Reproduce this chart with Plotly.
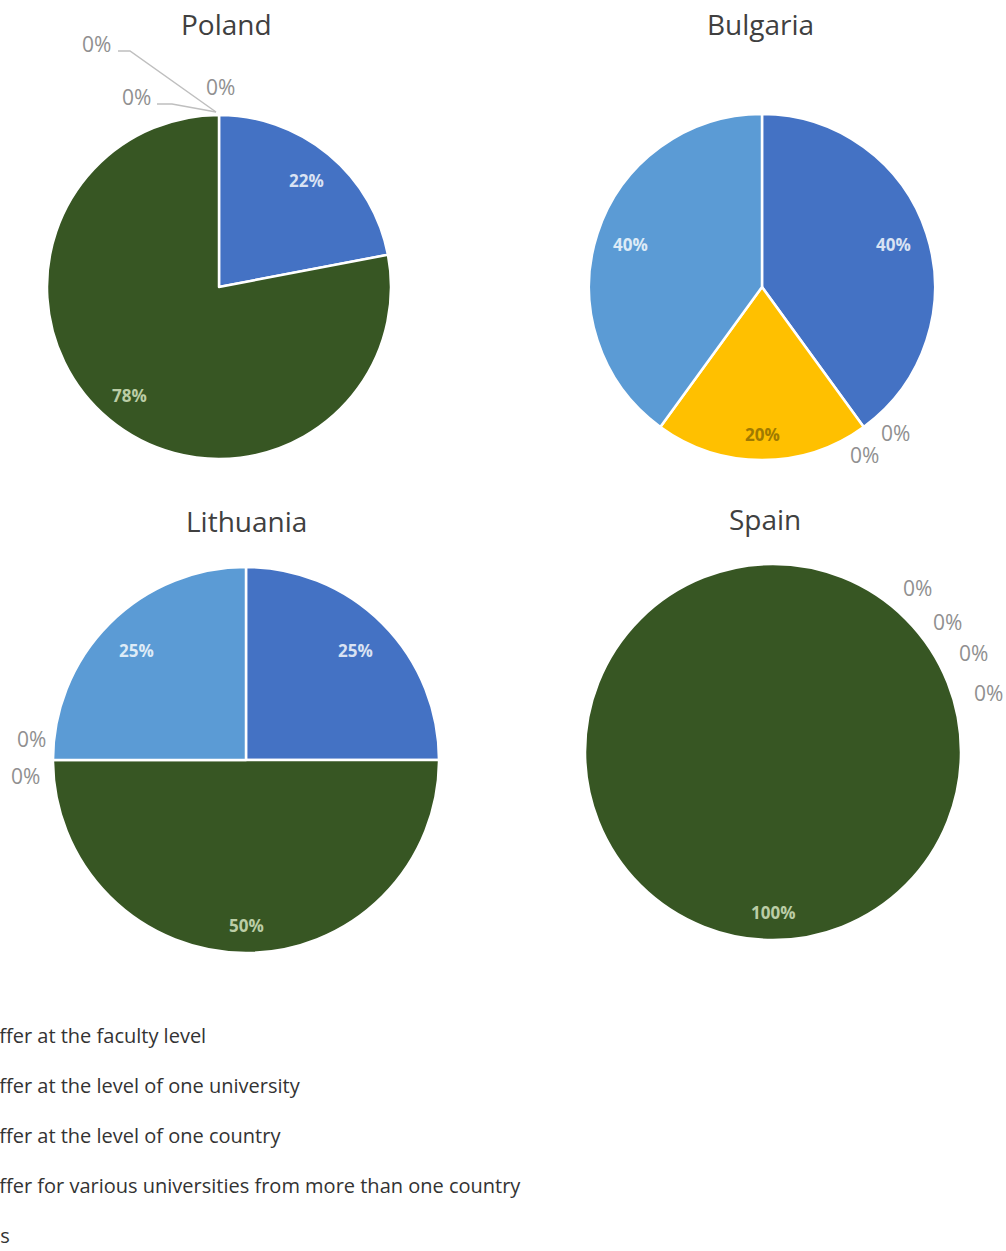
import math
import plotly.graph_objects as go

# Categories (slice order, clockwise from 12 o'clock)
categories = [
    "Offer at the faculty level",
    "Offer at the level of one university",
    "Offer at the level of one country",
    "Offer for various universities from more than one country",
    "\u2002\u2004s",
]
colors = ["#4472C4", "#375623", "#A5A5A5", "#FFC000", "#5B9BD5"]
inside_text_colors = ["#D9E2F3", "#BBCDA6", "#EDEDED", "#A07A00", "#DDEBF7"]

# Share of responses per country, in percent
countries = ["Poland", "Bulgaria", "Lithuania", "Spain"]
poland = [22, 78, 0, 0, 0]
bulgaria = [40, 0, 0, 20, 40]
lithuania = [25, 50, 0, 0, 25]
spain = [0, 100, 0, 0, 0]
series = [poland, bulgaria, lithuania, spain]

W, H = 1006, 1251
FONT = "'Open Sans', Lato, sans-serif"

# Pie geometry in pixels: centre x, centre y, radius
pie_geom = {
    "Poland": (219, 287, 172),
    "Bulgaria": (762, 287, 173),
    "Lithuania": (246, 760, 193),
    "Spain": (773, 752, 188),
}
title_pos = {
    "Poland": (226, 24),
    "Bulgaria": (760, 24),
    "Lithuania": (246, 521),
    "Spain": (765, 519),
}
# Where the labels of empty slices sit (pixels), in slice order
zero_label_pos = {
    "Poland": [(96, 44), (136, 97), (220, 87)],
    "Bulgaria": [(895, 433), (864, 455)],
    "Lithuania": [(32, 739), (25, 776)],
    "Spain": [(917, 588), (947, 622), (973, 653), (988, 693)],
}


def px(x):
    return x / W


def py(y):
    return 1 - y / H


fig = go.Figure()
annotations = []

for name, vals in zip(countries, series):
    cx, cy, r = pie_geom[name]
    fig.add_trace(go.Pie(
        labels=categories,
        values=vals,
        sort=False,
        direction="clockwise",
        rotation=0,
        domain=dict(x=[px(cx - r), px(cx + r)], y=[py(cy + r), py(cy - r)]),
        marker=dict(colors=colors,
                    line=dict(color="white", width=[2.5 if v else 0 for v in vals])),
        textinfo="none",
        hoverinfo="label+percent",
        showlegend=False,
    ))

    # Value labels placed along each slice's bisector
    total = sum(vals)
    start = 0.0
    for v, tc in zip(vals, inside_text_colors):
        if v:
            theta = math.radians((start + v / 2) / total * 360)
            f = 0.8 + 0.055 * max(0.0, -math.cos(theta)) ** 4
            lx = cx + f * r * math.sin(theta)
            ly = cy - f * r * math.cos(theta)
            annotations.append(dict(
                x=px(lx), y=py(ly), xref="paper", yref="paper", text=f"{v}%",
                showarrow=False, xanchor="center", yanchor="middle",
                font=dict(family=FONT, size=17, color=tc, weight="bold"),
            ))
        start += v

    tx, ty = title_pos[name]
    annotations.append(dict(
        x=px(tx), y=py(ty), xref="paper", yref="paper", text=name,
        showarrow=False, xanchor="center", yanchor="middle",
        font=dict(family=FONT, size=28, color="#404040"),
    ))
    zeros = [v for v in vals if v == 0]
    for v, (lx, ly) in zip(zeros, zero_label_pos[name]):
        annotations.append(dict(
            x=px(lx), y=py(ly), xref="paper", yref="paper", text=f"{v}%",
            showarrow=False, xanchor="center", yanchor="middle",
            font=dict(family=FONT, size=21, color="#909090"),
        ))

# Leader lines for the stacked empty-slice labels on the Poland pie
shapes = [
    dict(type="path", xref="paper", yref="paper",
         path=f"M {px(118)} {py(51)} L {px(130)} {py(51)} L {px(216)} {py(112)}",
         line=dict(color="#BFBFBF", width=1.5)),
    dict(type="path", xref="paper", yref="paper",
         path=f"M {px(157)} {py(104)} L {px(172)} {py(104)} L {px(216)} {py(112)}",
         line=dict(color="#BFBFBF", width=1.5)),
]

# Legend entries (one group per category so the rows are spaced apart)
for i, (cat, col) in enumerate(zip(categories, colors)):
    fig.add_trace(go.Scatter(
        x=[None], y=[None], mode="markers", name=cat,
        marker=dict(symbol="square", size=12, color=col),
        legendgroup=f"g{i}", showlegend=True, hoverinfo="skip",
    ))

fig.update_layout(
    width=W, height=H,
    margin=dict(l=0, r=0, t=0, b=0, autoexpand=False),
    paper_bgcolor="white", plot_bgcolor="white",
    xaxis=dict(visible=False), yaxis=dict(visible=False),
    annotations=annotations,
    shapes=shapes,
    legend=dict(
        x=-0.056, xanchor="left", y=py(1016), yanchor="top",
        font=dict(family=FONT, size=20, color="#333333"),
        tracegroupgap=21, bgcolor="rgba(0,0,0,0)",
    ),
)

fig.write_html("out.html")
